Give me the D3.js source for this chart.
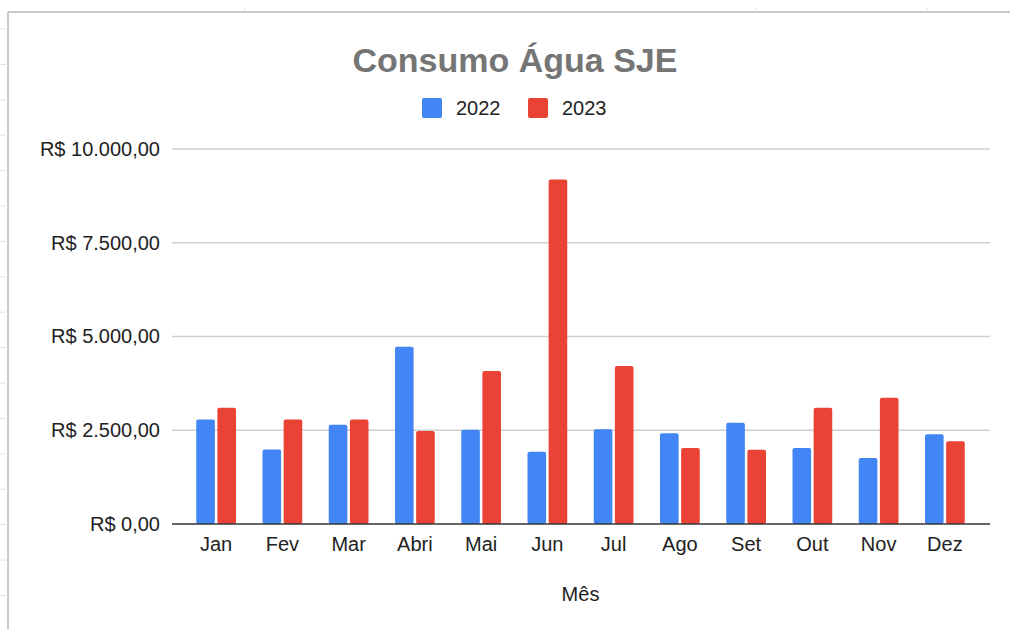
<!DOCTYPE html>
<html>
<head>
<meta charset="utf-8">
<script src="https://cdn.jsdelivr.net/npm/d3@7"></script>
<style>
  html, body { margin: 0; padding: 0; background: #fff; }
  svg { display: block; font-family: "Liberation Sans", Arial, sans-serif; }
</style>
</head>
<body>
<svg id="chart" width="1010" height="629"></svg>
<script>
const months = ["Jan","Fev","Mar","Abri","Mai","Jun","Jul","Ago","Set","Out","Nov","Dez"];
const seriesNames = ["2022","2023"];
const values2022 = [2790, 1990, 2650, 4730, 2515, 1930, 2525, 2420, 2700, 2025, 1760, 2395];
const values2023 = [3100, 2790, 2790, 2480, 4080, 9190, 4215, 2025, 1980, 3100, 3370, 2205];
const yTicks = [0, 2500, 5000, 7500, 10000];
const colors = ["#4285F4", "#EA4335"];
const titleText = "Consumo Água SJE";
const xTitle = "Mês";

const svg = d3.select("#chart");

// frame (spreadsheet-style)
const frame = svg.append("g");
frame.append("line").attr("x1", 8).attr("x2", 1010).attr("y1", 12).attr("y2", 12)
  .attr("stroke", "#b8b8b8").attr("stroke-width", 1.5);
frame.append("line").attr("x1", 8).attr("x2", 8).attr("y1", 12).attr("y2", 629)
  .attr("stroke", "#b8b8b8").attr("stroke-width", 1.5);
[245, 756, 927].forEach(x => frame.append("line").attr("x1", x).attr("x2", x).attr("y1", 8).attr("y2", 12)
  .attr("stroke", "#e2e2e2").attr("stroke-width", 1));
d3.range(17).forEach(i => {
  const y = 29 + i * 35.4;
  frame.append("line").attr("x1", 0).attr("x2", 8).attr("y1", y).attr("y2", y)
    .attr("stroke", "#e2e2e2").attr("stroke-width", 1);
});

const data = months.map((m, i) => ({ month: m, vals: [values2022[i], values2023[i]] }));

const y = d3.scaleLinear().domain([0, 10000]).range([524, 149]);
const x0 = d3.scaleBand().domain(months).range([183, 978]).paddingInner(0.4).paddingOuter(0.2);
const x1 = d3.scaleBand().domain(seriesNames).range([0, x0.bandwidth()]).paddingInner(0.12);

const locale = d3.formatLocale({ decimal: ",", thousands: ".", grouping: [3], currency: ["R$ ", ""] });
const fmt = locale.format("$,.2f");

// gridlines
const yAxis = d3.axisLeft(y).tickValues(yTicks).tickFormat(fmt).tickSize(0).tickPadding(12);
const gy = svg.append("g").attr("transform", "translate(172,0)").call(yAxis);
gy.select(".domain").remove();
gy.selectAll(".tick text").attr("font-size", 20).attr("fill", "#222")
  .attr("font-family", "Liberation Sans, Arial, sans-serif");
svg.append("g").selectAll("line").data(yTicks.filter(t => t > 0)).join("line")
  .attr("x1", 172).attr("x2", 990)
  .attr("y1", d => y(d)).attr("y2", d => y(d))
  .attr("stroke", "#cfcfcf").attr("stroke-width", 1.5);

// bars
const groups = svg.append("g").selectAll("g").data(data).join("g")
  .attr("transform", d => `translate(${x0(d.month)},0)`);
groups.selectAll("rect").data(d => d.vals.map((v, k) => ({ key: seriesNames[k], v, k }))).join("rect")
  .attr("x", d => x1(d.key))
  .attr("y", d => y(d.v))
  .attr("width", x1.bandwidth())
  .attr("height", d => y(0) - y(d.v))
  .attr("rx", 2)
  .attr("fill", d => colors[d.k]);

// baseline
svg.append("line").attr("x1", 172).attr("x2", 990).attr("y1", y(0)).attr("y2", y(0))
  .attr("stroke", "#333").attr("stroke-width", 1.5);

// x axis
const xAxis = d3.axisBottom(x0).tickSize(0).tickPadding(13);
const gx = svg.append("g").attr("transform", `translate(0,${y(0)})`).call(xAxis);
gx.select(".domain").remove();
gx.selectAll(".tick text").attr("font-size", 20).attr("fill", "#222")
  .attr("font-family", "Liberation Sans, Arial, sans-serif");

// x title
svg.append("text").attr("x", (x0.range()[0] + x0.range()[1]) / 2).attr("y", 601)
  .attr("text-anchor", "middle").attr("font-size", 20).attr("fill", "#222").text(xTitle);

// title
svg.append("text").attr("x", 515).attr("y", 72).attr("text-anchor", "middle")
  .attr("font-size", 34).attr("font-weight", "bold").attr("fill", "#757575").text(titleText);

// legend
const legendX = [422, 528];
const lg = svg.append("g").selectAll("g").data(seriesNames).join("g")
  .attr("transform", (d, i) => `translate(${legendX[i]},98)`);
lg.append("rect").attr("width", 20).attr("height", 20).attr("rx", 2).attr("fill", (d, i) => colors[i]);
lg.append("text").attr("x", 34).attr("y", 17).attr("font-size", 20).attr("fill", "#222").text(d => d);
</script>
</body>
</html>
